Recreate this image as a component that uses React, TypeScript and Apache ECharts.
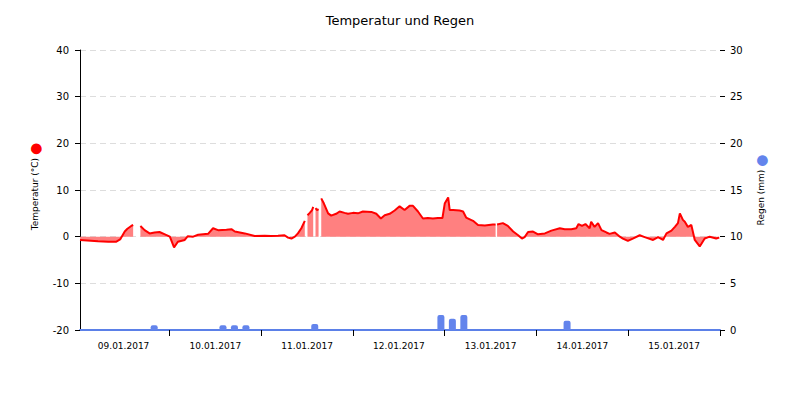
import React, { useEffect, useRef } from "react";
import * as echarts from "echarts";

// hours since 09.01.2017 00:00
const tempHours = [
  0.6, 2.5, 5.3, 8.0, 10.0, 11.1, 12.3, 13.0, 14.0, 14.5, 15.4, 16.4, 17.5, 18.8, 20.1, 21.4, 22.8,
  24.1, 25.2, 26.2, 28.0, 28.8, 30.2, 31.5, 34.1, 35.4, 36.7, 38.9, 40.2, 41.1, 42.4, 43.7, 46.3,
  48.9, 50.6, 52.4, 54.1, 55.0, 55.9, 56.8, 57.6, 58.5, 59.4, 59.8, 60.1, 60.7, 61.3, 61.6, 61.9,
  62.2, 62.6, 63.0, 63.35, 63.7, 64.4, 65.5, 66.3, 67.6, 68.5, 69.8, 70.7, 72.0, 73.3, 74.6, 76.8,
  78.1, 79.3, 80.3, 81.6, 82.9, 84.2, 85.5, 86.8, 87.7, 89.0, 90.3, 91.6, 92.9, 94.2, 95.4, 96.0,
  96.9, 97.3, 98.2, 99.9, 100.8, 101.6, 103.4, 104.7, 106.5, 108.6, 109.3, 109.5, 109.7, 111.2,
  112.5, 113.9, 115.2, 116.2, 116.9, 117.8, 119.1, 120.4, 122.2, 123.9, 126.1, 127.4, 129.1, 130.4,
  131.0, 131.9, 132.8, 133.9, 134.3, 135.2, 136.1, 137.0, 138.3, 139.1, 140.5, 141.8, 142.6, 143.9,
  145.2, 147.0, 148.3, 150.5, 151.8, 153.1, 154.0, 155.3, 156.2, 157.0, 157.5, 158.3, 158.8, 159.6,
  160.5, 161.4, 162.7, 164.0, 165.3, 167.0, 167.8,
];
const tempValues: (number | null)[] = [
  -0.7, -0.8, -1.0, -1.1, -1.1, -0.6, 1.1, 1.7, 2.3, 2.5, null, 2.3, 1.4, 0.7, 0.9, 1.0, 0.5,
  0.0, -2.3, -1.1, -0.7, 0.1, 0.0, 0.4, 0.6, 1.8, 1.4, 1.5, 1.6, 1.1, 0.9, 0.7, 0.15,
  0.2, 0.15, 0.2, 0.3, -0.2, -0.4, 0.0, 0.7, 1.8, 3.4, null, 4.6, 5.1, 5.7, 6.4, null,
  6.1, 5.7, 5.9, null, 8.2, 7.1, 5.0, 4.5, 4.9, 5.4, 5.1, 4.9, 5.1, 5.0, 5.4, 5.3,
  4.9, 3.9, 4.6, 4.9, 5.6, 6.5, 5.7, 6.6, 6.6, 5.4, 3.9, 4.0, 3.9, 4.0, 4.0, 7.1,
  8.4, 5.7, 5.7, 5.6, 5.4, 4.1, 3.4, 2.5, 2.4, 2.6, 2.6, null, 2.6, 2.9,
  2.3, 1.1, 0.3, -0.4, -0.1, 1.0, 1.1, 0.5, 0.7, 1.3, 1.8, 1.6, 1.6, 1.8,
  2.7, 2.3, 2.7, 1.8, 3.2, 2.1, 2.9, 1.4, 0.9, 0.6, 0.9, 0.0, -0.4, -0.9,
  -0.4, 0.3, -0.1, -0.7, -0.1, -0.7, 0.7, 1.3, 2.1, 2.9, 5.0, 3.6, 3.2, 2.1,
  2.5, -0.7, -2.1, -0.4, 0.0, -0.4, -0.2,
];

const rainHours = [20, 38, 41, 44, 62, 95, 98, 101, 128];
const rainValues = [0.5, 0.5, 0.5, 0.5, 0.65, 1.6, 1.2, 1.6, 1.0];

const dayLabels = ["09.01.2017", "10.01.2017", "11.01.2017", "12.01.2017", "13.01.2017", "14.01.2017", "15.01.2017"];
const dayTicks = [24, 48, 72, 96, 120, 144, 168];
const dayLabelPos = [12, 36, 60, 84, 108, 132, 156];

const FONT = "DejaVu Sans";

export default function App() {
  const ref = useRef<HTMLDivElement>(null);
  useEffect(() => {
    document.body.style.margin = "0";
    if (!ref.current) return;
    const chart = echarts.init(ref.current, null, { renderer: "svg" });
    const tempData = tempHours.map((h, i) => [h, tempValues[i] === null ? "-" : tempValues[i]]);
    const rainData = rainHours.map((h, i) => [h, rainValues[i]]);
    chart.setOption({
      animation: false,
      title: {
        text: "Temperatur und Regen",
        left: "center",
        top: 9,
        textStyle: { fontFamily: FONT, fontSize: 13, fontWeight: "normal", color: "#000" },
      },
      grid: { left: 80, right: 80, top: 50, bottom: 70 },
      xAxis: {
        type: "value",
        min: 0.6,
        max: 168,
        axisLine: { show: true, onZero: false, lineStyle: { color: "#5b80e8", width: 2 } },
        axisTick: { show: true, customValues: dayTicks, length: 6, lineStyle: { color: "#000" } },
        axisLabel: {
          customValues: dayLabelPos,
          formatter: (v: number) => dayLabels[Math.floor(v / 24)] ?? "",
          fontFamily: FONT,
          fontSize: 9,
          color: "#000",
          margin: 11,
        },
        splitLine: { show: false },
      },
      yAxis: [
        {
          type: "value",
          min: -20,
          max: 40,
          interval: 10,
          name: "Temperatur (°C) {d|●}",
          nameLocation: "middle",
          nameRotate: 90,
          nameGap: 36,
          nameTextStyle: {
            fontFamily: FONT,
            fontSize: 9,
            color: "#000",
            padding: [0, 0, 0, 7],
            rich: { d: { color: "#ff0000", fontSize: 14 } },
          },
          axisLine: { show: true, lineStyle: { color: "#000" } },
          axisTick: { show: true, length: 5, lineStyle: { color: "#000" } },
          axisLabel: { fontFamily: FONT, fontSize: 10, color: "#000", margin: 11 },
          splitLine: { show: true, lineStyle: { color: "#dddddd", type: [6, 4] } },
        },
        {
          type: "value",
          min: 0,
          max: 30,
          interval: 5,
          position: "right",
          name: "Regen (mm) {d|●}",
          nameLocation: "middle",
          nameRotate: 90,
          nameGap: 31,
          nameTextStyle: {
            fontFamily: FONT,
            fontSize: 9,
            color: "#000",
            rich: { d: { color: "#6384ec", fontSize: 14 } },
          },
          axisLine: { show: false },
          axisTick: { show: true, length: 5, lineStyle: { color: "#000" } },
          axisLabel: { fontFamily: FONT, fontSize: 10, color: "#000", margin: 10 },
          splitLine: { show: false },
        },
      ],
      series: [
        {
          name: "Temperatur",
          type: "line",
          yAxisIndex: 0,
          data: tempData,
          connectNulls: false,
          showSymbol: false,
          symbol: "none",
          lineStyle: { color: "#ff0000", width: 2 },
          areaStyle: { color: "#ff8080", opacity: 1, origin: 0 },
          z: 2,
        },
        {
          name: "Regen",
          type: "bar",
          yAxisIndex: 1,
          data: rainData,
          barWidth: 7,
          itemStyle: { color: "#6384ec", borderRadius: [2, 2, 0, 0] },
          z: 3,
        },
      ],
    });
    return () => chart.dispose();
  }, []);
  return <div ref={ref} style={{ width: 800, height: 400 }} />;
}
